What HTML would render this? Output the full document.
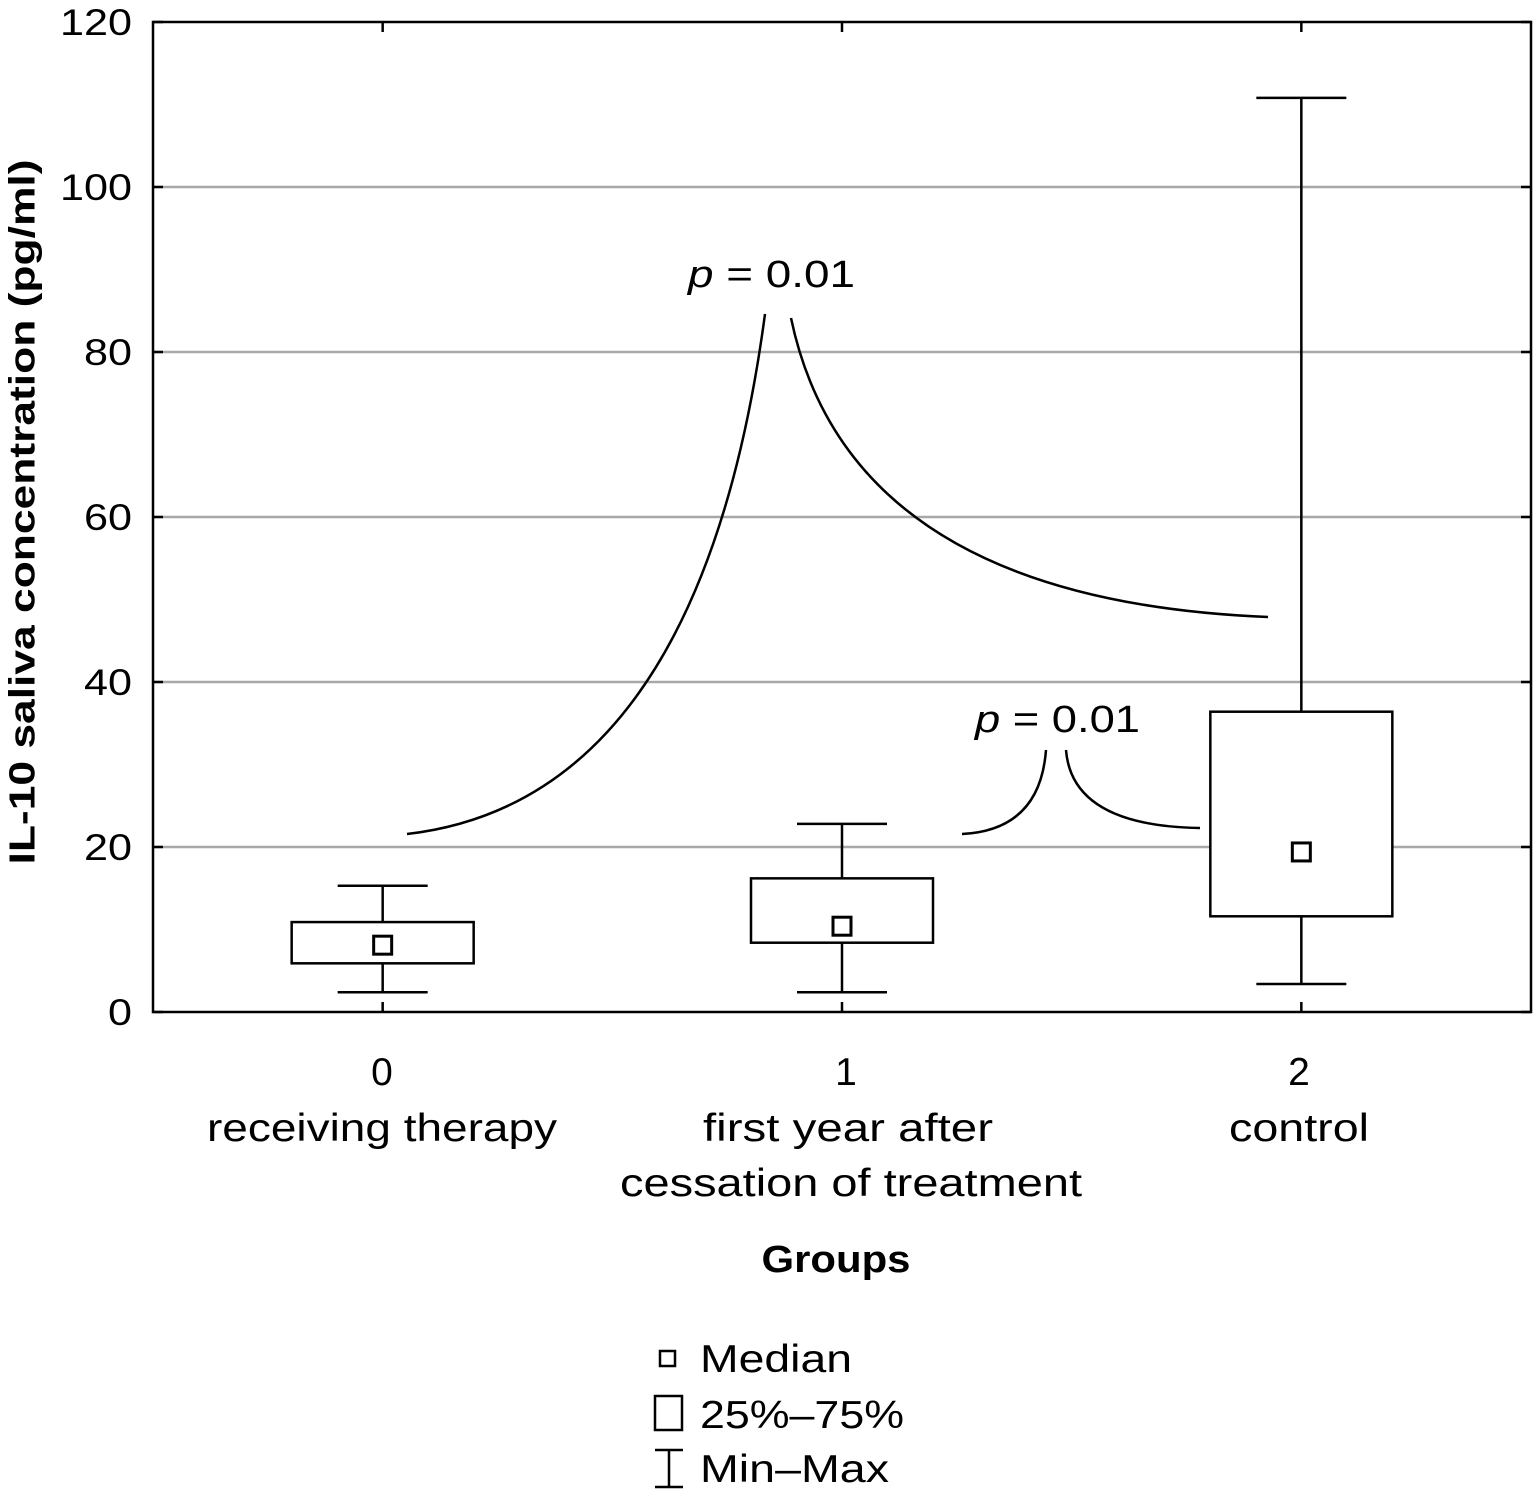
<!DOCTYPE html>
<html><head><meta charset="utf-8"><style>
html,body{margin:0;padding:0;background:#fff;}
svg{display:block;font-family:"Liberation Sans","DejaVu Sans",sans-serif;}
</style></head><body>
<svg id="chart" width="1534" height="1493" viewBox="0 0 1534 1493">
<g id="grid"></g>
<g id="boxes"></g>
<rect x="153" y="22" width="1378" height="990" fill="none" stroke="#000" stroke-width="2.5"/>
<g id="ticks"></g>
<text x="25" y="512" transform="rotate(-90 25 512)" text-anchor="middle" dominant-baseline="middle" font-size="36" font-weight="bold" textLength="705" lengthAdjust="spacingAndGlyphs">IL-10 saliva concentration (pg/ml)</text>
<text x="836" y="1272" text-anchor="middle" font-size="38" font-weight="bold" textLength="149" lengthAdjust="spacingAndGlyphs">Groups</text>
<g fill="none" stroke="#000" stroke-width="2.5">
<path d="M407,834 Q700,800 765,314"/>
<path d="M791,318 Q850,600 1268,617"/>
</g>
<text x="688" y="287" font-size="38" textLength="167" lengthAdjust="spacingAndGlyphs"><tspan font-style="italic">p</tspan> = 0.01</text>
<g fill="none" stroke="#000" stroke-width="2.5">
<path d="M962,834 Q1040,830 1046,750"/>
<path d="M1066,750 Q1072,826 1200,828"/>
</g>
<text x="975" y="732" font-size="38" textLength="165" lengthAdjust="spacingAndGlyphs"><tspan font-style="italic">p</tspan> = 0.01</text>
<g font-size="39">
<rect x="660" y="1351" width="15" height="15" fill="none" stroke="#000" stroke-width="2.5"/>
<text x="700" y="1372" textLength="152" lengthAdjust="spacingAndGlyphs">Median</text>
<rect x="655" y="1396" width="27" height="34" fill="none" stroke="#000" stroke-width="2.5"/>
<text x="700" y="1428" textLength="204" lengthAdjust="spacingAndGlyphs">25%–75%</text>
<path d="M655,1450 H683 M669,1450 V1487 M655,1487 H683" fill="none" stroke="#000" stroke-width="2.5"/>
<text x="700" y="1482" textLength="189" lengthAdjust="spacingAndGlyphs">Min–Max</text>
</g>
<g id="xlabels" font-size="39" text-anchor="middle"></g>
<g id="ylabels" font-size="37" text-anchor="end"></g>
</svg>
<script>
const categories = ["0", "1", "2"];
const categoryNames = [["receiving therapy"], ["first year after", "cessation of treatment"], ["control"]];
const mins = [2.4, 2.4, 3.4];
const q1s = [5.9, 8.4, 11.6];
const medians = [8.1, 10.4, 19.4];
const q3s = [10.9, 16.2, 36.4];
const maxs = [15.3, 22.8, 110.8];
const yTicks = [0, 20, 40, 60, 80, 100, 120];

const NS = "http://www.w3.org/2000/svg";
const plotL = 153, plotR = 1531, plotT = 22, plotB = 1012;
const yMin = 0, yMax = 120, xMin = -0.5, xMax = 2.5;
const yS = v => plotB - (v - yMin) / (yMax - yMin) * (plotB - plotT);
const xS = i => plotL + (i - xMin) / (xMax - xMin) * (plotR - plotL);
const nameWidths = {"receiving therapy": 350, "first year after": 290, "cessation of treatment": 462, "control": 140};
const nameCenters = [[382], [848, 851], [1299]];
function mk(tag, attrs, parent) {
  const e = document.createElementNS(NS, tag);
  for (const k in attrs) e.setAttribute(k, attrs[k]);
  parent.appendChild(e);
  return e;
}
const grid = document.getElementById("grid"), ticks = document.getElementById("ticks");
const ylabels = document.getElementById("ylabels"), xlabels = document.getElementById("xlabels");
const boxes = document.getElementById("boxes");
yTicks.forEach(v => {
  const y = yS(v);
  if (v > yMin && v < yMax) {
    const g = mk("line", {x1: plotL, x2: plotR, y1: y, y2: y, stroke: "#a8a8a8", "stroke-width": 2.5}, grid);
    
    
  }
  const t1 = mk("line", {x1: plotL, x2: plotL + 10, y1: y, y2: y, stroke: "#000", "stroke-width": 2.5}, ticks);
  
  
  const t2 = mk("line", {x1: plotR - 10, x2: plotR, y1: y, y2: y, stroke: "#000", "stroke-width": 2.5}, ticks);
  
  
  const s = String(v);
  const lb = mk("text", {x: 132, y: y + 13, textLength: s.length * 24, lengthAdjust: "spacingAndGlyphs"}, ylabels);
  lb.textContent = s;
  
  
});
const bw = 91, cw = 45, ms = 9;
categories.forEach((c, i) => {
  const x = xS(i);
  const tb = mk("line", {x1: x, x2: x, y1: plotB, y2: plotB - 10, stroke: "#000", "stroke-width": 2.5}, ticks);
  
  
  const tt = mk("line", {x1: x, x2: x, y1: plotT, y2: plotT + 10, stroke: "#000", "stroke-width": 2.5}, ticks);
  
  
  const g = mk("g", {fill: "none", stroke: "#000", "stroke-width": 2.5}, boxes);
  
  
  const w = mk("path", {d: `M${x},${yS(maxs[i])}V${yS(q3s[i])}M${x},${yS(q1s[i])}V${yS(mins[i])}M${x-cw},${yS(maxs[i])}H${x+cw}M${x-cw},${yS(mins[i])}H${x+cw}`}, g);
  
  
  const b = mk("rect", {x: x - bw, y: yS(q3s[i]), width: 2 * bw, height: yS(q1s[i]) - yS(q3s[i]), fill: "#fff"}, g);
  
  
  const m = mk("rect", {x: x - ms, y: yS(medians[i]) - ms, width: 2 * ms, height: 2 * ms, "stroke-width": 3}, g);
  
  
  const l0 = mk("text", {x: [382, 846, 1299][i], y: 1085}, xlabels);
  l0.textContent = c;
  
  
  categoryNames[i].forEach((s, j) => {
    const l = mk("text", {x: nameCenters[i][j], y: 1141 + j * 55, textLength: nameWidths[s], lengthAdjust: "spacingAndGlyphs"}, xlabels);
    l.textContent = s;
    
    
  });
});
</script>
</body></html>
